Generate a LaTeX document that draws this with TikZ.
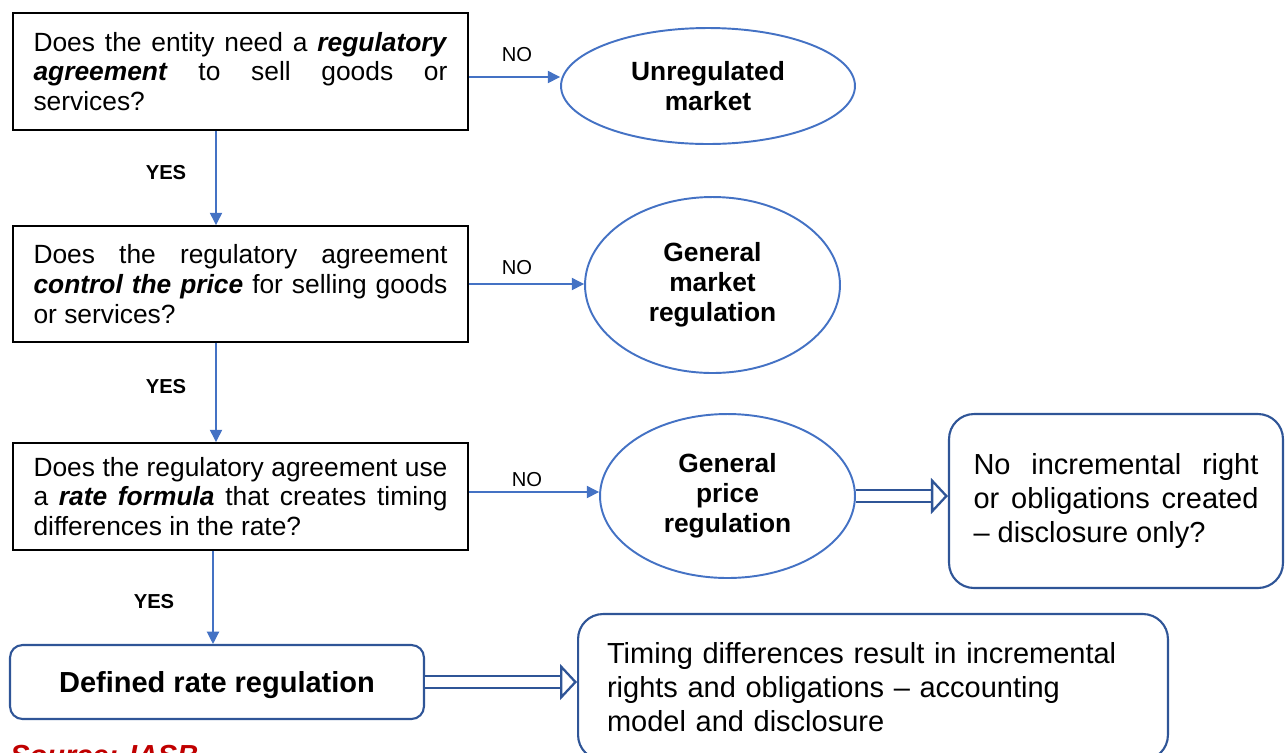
\documentclass[tikz,border=0pt]{standalone}
\usepackage{fontspec}
\setmainfont{Liberation Sans}
\usepackage{xcolor}
\usetikzlibrary{arrows.meta,shapes.geometric}
\definecolor{lineblue}{HTML}{4472C4}
\definecolor{boxblue}{HTML}{2F5597}
\definecolor{srcred}{HTML}{C00000}

\begin{document}
\begin{tikzpicture}[
  x=0.02cm, y=-0.02cm,
  arr/.style={-{Triangle[length=7pt,width=7pt]}, draw=lineblue, line width=0.7pt},
  dblarr/.style={draw=boxblue, line width=1.3pt, double=white, double distance=0.2cm,
                 -{Triangle[length=0.34cm,width=0.72cm,fill=white]}},
  qbox/.style={rectangle, draw=black, line width=1.1pt, inner sep=0pt,
               text width=8.28cm, minimum width=9.1cm, align=justify,
               font=\fontsize{15}{17}\selectfont},
  ellbox/.style={ellipse, draw=lineblue, line width=1.1pt, inner sep=0pt,
                 align=center, font=\fontsize{15}{17}\selectfont\bfseries},
  rbox/.style={rectangle, rounded corners=0.5cm, draw=boxblue, line width=1.2pt,
               inner sep=0pt, font=\fontsize{16.5}{19.3}\selectfont},
  ynlab/.style={inner sep=0pt, font=\fontsize{11.5}{13}\selectfont},
]
\clip (0,0) rectangle (1285,752);

%% ===== Questions =====
\node[qbox, minimum height=2.34cm] (q1) at (240.5,71.5)
  {Does the entity need a \textbf{\textit{regulatory}}\linebreak
   \textbf{\textit{agreement}} to sell goods or\linebreak services?};
\node[qbox, minimum height=2.32cm] (q2) at (240.5,284)
  {Does the regulatory agreement\linebreak
   \textbf{\textit{control the price}} for selling goods\linebreak or services?};
\node[qbox, minimum height=2.14cm] (q3) at (240.5,496.5)
  {Does the regulatory agreement use\linebreak
   a \textbf{\textit{rate formula}} that creates timing\linebreak differences in the rate?};

\node[rbox, rounded corners=0.25cm, minimum width=8.28cm, minimum height=1.48cm,
      text height=0.42cm, text depth=0.02cm,
      font=\fontsize{16.5}{19}\selectfont\bfseries] (drr) at (217,682)
  {Defined rate regulation};

%% ===== Outcomes =====
\node[ellbox, minimum width=5.88cm, minimum height=2.32cm] (e1) at (708,86)
  {Unregulated\\market};
\node[ellbox, minimum width=5.1cm, minimum height=3.52cm] (e2) at (712.5,285)
  {General\\market\\regulation};
\node[ellbox, minimum width=5.1cm, minimum height=3.28cm] (e3) at (727.5,496)
  {General\\price\\regulation};

\node[rbox, minimum width=6.68cm, minimum height=3.48cm, text width=5.7cm,
      align=justify] (noinc) at (1116,501)
  {No incremental right\linebreak or obligations created\linebreak -- disclosure only?};
\node[rbox, minimum width=11.8cm, minimum height=2.92cm, inner xsep=0.56cm,
      text width=10.64cm, align=left] (timing) at (873,687)
  {Timing differences result in incremental\\
   rights and obligations -- accounting\\
   model and disclosure};

%% ===== Labels =====
\node[ynlab] (no1) at (517,55) {NO};
\node[ynlab] (no2) at (517,268) {NO};
\node[ynlab] (no3) at (527,480) {NO};
\node[ynlab, font=\fontsize{11.5}{13}\selectfont\bfseries] (yes1) at (166,173) {YES};
\node[ynlab, font=\fontsize{11.5}{13}\selectfont\bfseries] (yes2) at (166,387) {YES};
\node[ynlab, font=\fontsize{11.5}{13}\selectfont\bfseries] (yes3) at (154,602) {YES};

\node[anchor=base west, inner sep=0pt, text=srcred,
      font=\fontsize{16.5}{19}\selectfont\bfseries\itshape] (src) at (10,765)
  {Source: IASB};

%% ===== Connectors =====
\draw[arr] ([xshift=-0.49cm]q1.south) -- ([xshift=-0.49cm]q1.south |- q2.north);
\draw[arr] ([xshift=-0.49cm]q2.south) -- ([xshift=-0.49cm]q2.south |- q3.north);
\draw[arr] ([xshift=-0.55cm]q3.south) -- ([xshift=-0.55cm]q3.south |- drr.north);

\draw[arr] ([yshift=-0.11cm]q1.east) -- ([yshift=-0.11cm]q1.east -| e1.west);
\draw[arr] (q2.east) -- (q2.east -| e2.west);
\draw[arr] ([yshift=0.09cm]q3.east) -- ([yshift=0.09cm]q3.east -| e3.west);

\draw[dblarr] (e3.east) -- (e3.east -| noinc.west);
\draw[dblarr] (drr.east) -- (drr.east -| timing.west);

\end{tikzpicture}
\end{document}
